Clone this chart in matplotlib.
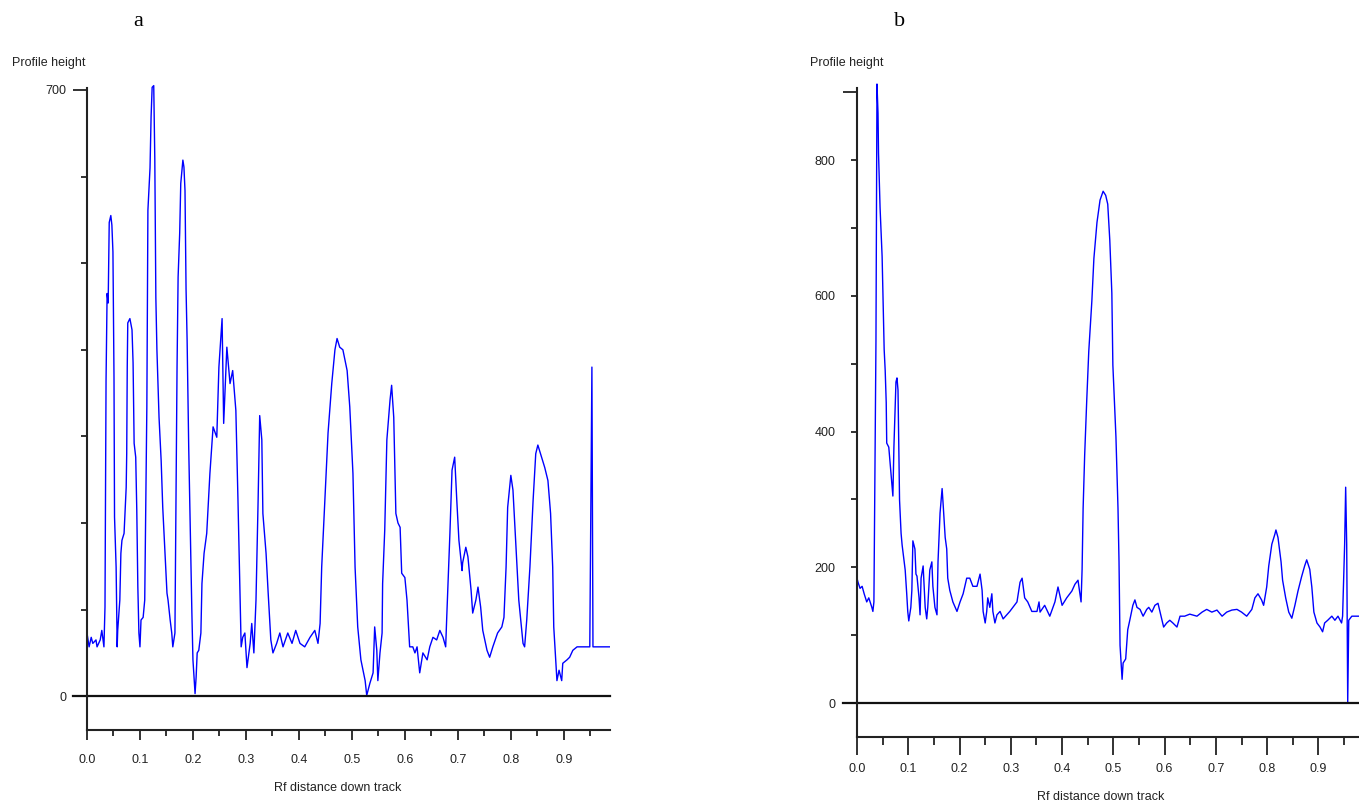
import matplotlib
matplotlib.use('Agg')
import matplotlib.pyplot as plt
from matplotlib.ticker import MultipleLocator, FormatStrFormatter

plt.rcParams['font.family'] = ['Liberation Sans', 'DejaVu Sans']

# panel a: profile trace
a_x = [0.000, 0.004, 0.008, 0.011, 0.017, 0.019, 0.025, 0.028, 0.032, 0.034,
       0.036, 0.038, 0.040, 0.042, 0.045, 0.047, 0.049, 0.051, 0.052, 0.055,
       0.057, 0.058, 0.062, 0.064, 0.066, 0.070, 0.074, 0.075, 0.076, 0.077,
       0.081, 0.085, 0.087, 0.089, 0.092, 0.094, 0.096, 0.098, 0.100, 0.102,
       0.106, 0.109, 0.111, 0.113, 0.114, 0.115, 0.119, 0.121, 0.123, 0.126,
       0.128, 0.130, 0.132, 0.136, 0.140, 0.143, 0.147, 0.151, 0.153, 0.157,
       0.160, 0.162, 0.166, 0.168, 0.170, 0.172, 0.175, 0.177, 0.181, 0.183,
       0.185, 0.187, 0.189, 0.192, 0.196, 0.198, 0.200, 0.204, 0.206, 0.208,
       0.211, 0.215, 0.217, 0.221, 0.226, 0.232, 0.238, 0.245, 0.249, 0.255,
       0.258, 0.264, 0.270, 0.275, 0.281, 0.285, 0.291, 0.294, 0.298, 0.302,
       0.308, 0.311, 0.315, 0.319, 0.323, 0.326, 0.330, 0.332, 0.338, 0.342,
       0.347, 0.351, 0.358, 0.364, 0.370, 0.379, 0.387, 0.394, 0.402, 0.411,
       0.421, 0.430, 0.436, 0.440, 0.443, 0.449, 0.455, 0.462, 0.468, 0.472,
       0.477, 0.483, 0.491, 0.496, 0.502, 0.506, 0.511, 0.517, 0.525, 0.528,
       0.534, 0.540, 0.543, 0.547, 0.549, 0.553, 0.557, 0.558, 0.562, 0.566,
       0.572, 0.575, 0.579, 0.583, 0.587, 0.591, 0.594, 0.600, 0.604, 0.609,
       0.615, 0.619, 0.623, 0.628, 0.634, 0.642, 0.647, 0.653, 0.660, 0.666,
       0.672, 0.677, 0.679, 0.685, 0.689, 0.694, 0.698, 0.702, 0.708, 0.709,
       0.715, 0.719, 0.725, 0.728, 0.734, 0.738, 0.743, 0.747, 0.755, 0.760,
       0.766, 0.775, 0.783, 0.787, 0.791, 0.794, 0.800, 0.804, 0.809, 0.815,
       0.823, 0.826, 0.830, 0.836, 0.842, 0.847, 0.851, 0.858, 0.864, 0.870,
       0.875, 0.879, 0.881, 0.887, 0.891, 0.896, 0.898, 0.906, 0.911, 0.917,
       0.925, 0.934, 0.949, 0.951, 0.953, 0.955, 0.987]
a_y = [73, 57, 68, 61, 65, 57, 65, 76, 57, 103,
       365, 465, 454, 547, 555, 544, 513, 368, 207, 149,
       57, 76, 111, 165, 180, 188, 241, 280, 380, 431,
       436, 423, 385, 292, 276, 215, 126, 73, 57, 88,
       91, 111, 226, 334, 449, 561, 610, 669, 703, 705,
       621, 460, 400, 322, 272, 218, 169, 119, 111, 88,
       73, 57, 73, 226, 380, 484, 535, 592, 619, 611,
       584, 470, 411, 288, 161, 96, 42, 3, 22, 50,
       53, 73, 130, 165, 188, 257, 311, 299, 380, 436,
       315, 403, 361, 376, 330, 226, 57, 68, 73, 33,
       61, 84, 50, 111, 226, 324, 296, 211, 165, 119,
       65, 50, 61, 73, 57, 73, 61, 76, 61, 57,
       68, 76, 61, 84, 149, 226, 304, 361, 400, 413,
       403, 400, 376, 334, 257, 149, 80, 42, 18, 1,
       15, 27, 80, 53, 18, 50, 73, 130, 192, 296,
       342, 359, 322, 211, 200, 195, 142, 137, 111, 57,
       57, 50, 57, 27, 50, 42, 57, 68, 65, 76,
       68, 57, 91, 188, 261, 276, 226, 180, 145, 154,
       172, 161, 122, 96, 111, 126, 103, 76, 53, 45,
       57, 73, 80, 91, 149, 218, 255, 238, 180, 111,
       61, 57, 88, 149, 226, 280, 290, 276, 264, 249,
       211, 149, 80, 18, 30, 18, 38, 42, 45, 53,
       57, 57, 57, 226, 380, 57, 57]

# panel b
b_x = [0.000, 0.002, 0.006, 0.010, 0.014, 0.019, 0.023, 0.029, 0.031, 0.033,
       0.037, 0.039, 0.041, 0.042, 0.045, 0.049, 0.051, 0.053, 0.055, 0.057,
       0.058, 0.062, 0.066, 0.068, 0.070, 0.072, 0.076, 0.078, 0.080, 0.082,
       0.083, 0.086, 0.088, 0.090, 0.094, 0.097, 0.099, 0.101, 0.105, 0.107,
       0.109, 0.113, 0.115, 0.117, 0.121, 0.123, 0.125, 0.129, 0.131, 0.133,
       0.136, 0.138, 0.142, 0.146, 0.148, 0.152, 0.156, 0.158, 0.162, 0.166,
       0.168, 0.172, 0.175, 0.177, 0.181, 0.187, 0.195, 0.201, 0.207, 0.214,
       0.220, 0.226, 0.234, 0.240, 0.244, 0.246, 0.250, 0.253, 0.255, 0.259,
       0.263, 0.265, 0.269, 0.273, 0.279, 0.285, 0.292, 0.298, 0.304, 0.312,
       0.318, 0.322, 0.327, 0.333, 0.341, 0.351, 0.355, 0.357, 0.366, 0.376,
       0.386, 0.392, 0.400, 0.409, 0.419, 0.425, 0.431, 0.437, 0.439, 0.441,
       0.444, 0.448, 0.452, 0.458, 0.462, 0.468, 0.474, 0.480, 0.485, 0.489,
       0.493, 0.497, 0.499, 0.505, 0.509, 0.511, 0.513, 0.517, 0.519, 0.524,
       0.528, 0.532, 0.538, 0.542, 0.546, 0.552, 0.558, 0.565, 0.569, 0.575,
       0.581, 0.587, 0.593, 0.598, 0.604, 0.610, 0.616, 0.624, 0.630, 0.639,
       0.649, 0.663, 0.673, 0.682, 0.692, 0.702, 0.712, 0.721, 0.731, 0.741,
       0.750, 0.760, 0.770, 0.776, 0.782, 0.789, 0.793, 0.799, 0.803, 0.809,
       0.815, 0.817, 0.821, 0.827, 0.830, 0.836, 0.842, 0.848, 0.854, 0.860,
       0.867, 0.873, 0.877, 0.883, 0.887, 0.891, 0.897, 0.903, 0.908, 0.912,
       0.918, 0.926, 0.932, 0.938, 0.945, 0.947, 0.951, 0.953, 0.955, 0.957,
       0.959, 0.965, 0.971, 0.979]
b_y = [184, 178, 169, 172, 161, 149, 155, 141, 135, 149,
       533, 912, 869, 810, 730, 658, 593, 521, 490, 443,
       383, 377, 340, 322, 305, 377, 473, 479, 461, 352,
       299, 250, 233, 221, 196, 161, 135, 121, 141, 166,
       239, 227, 190, 187, 155, 130, 184, 202, 172, 141,
       124, 141, 196, 208, 172, 141, 130, 208, 280, 316,
       293, 244, 227, 184, 166, 149, 135, 149, 161, 184,
       184, 172, 172, 190, 166, 135, 118, 135, 155, 141,
       161, 135, 118, 130, 135, 124, 130, 135, 141, 149,
       178, 184, 155, 149, 135, 135, 149, 134, 144, 128,
       149, 171, 144, 155, 165, 175, 181, 149, 197, 287,
       365, 445, 518, 592, 655, 708, 741, 754, 748, 735,
       682, 604, 498, 392, 287, 208, 85, 35, 59, 65,
       108, 122, 144, 152, 141, 138, 128, 138, 141, 134,
       144, 147, 128, 112, 118, 122, 118, 112, 128, 128,
       131, 128, 134, 138, 134, 137, 128, 134, 137, 138,
       134, 128, 138, 155, 161, 152, 144, 171, 202, 234,
       249, 255, 244, 208, 181, 155, 134, 125, 144, 165,
       186, 202, 211, 197, 171, 134, 118, 112, 105, 118,
       122, 128, 122, 128, 118, 128, 234, 318, 234, 1,
       122, 128, 128, 128]

fig = plt.figure(figsize=(13.59, 8.06), dpi=100)
ax_a = fig.add_axes([0.0640, 0.0943, 0.3848, 0.8027])
ax_b = fig.add_axes([0.6306, 0.0856, 0.3694, 0.8127])

dark = '#222222'
fs = 9


def setup(ax, x, y, xmax, ylo, yhi, ytop):
    ax.plot(x, y, color='blue', lw=1.0)
    ax.set_xlim(0, xmax)
    ax.set_ylim(ylo, yhi)
    for s in ['top', 'right']:
        ax.spines[s].set_visible(False)
    for s in ['left', 'bottom']:
        ax.spines[s].set_color(dark)
        ax.spines[s].set_linewidth(1.5)
    ax.spines['left'].set_bounds(ylo, ytop)
    ax.axhline(0, xmin=-0.027, xmax=1, color='#111111', lw=1.6, clip_on=False)
    ax.xaxis.set_major_locator(MultipleLocator(0.1))
    ax.xaxis.set_minor_locator(MultipleLocator(0.05))
    ax.xaxis.set_major_formatter(FormatStrFormatter('%.1f'))
    ax.tick_params(axis='both', which='both', color=dark, width=1.3,
                   labelcolor=dark, labelsize=fs)


setup(ax_a, a_x, a_y, 0.987, -39, 708, 702)
ax_a.set_yticks([0, 700])
ax_a.set_yticks([100, 200, 300, 400, 500, 600], minor=True)
ax_a.tick_params(axis='y', which='major', length=10, pad=5)
ax_a.tick_params(axis='y', which='minor', length=4.3)
ax_a.tick_params(axis='x', which='major', length=7.2, pad=10)
ax_a.tick_params(axis='x', which='minor', length=4.3)

setup(ax_b, b_x, b_y, 0.979, -50, 915, 906)
ax_b.set_yticks([0, 200, 400, 600, 800, 900], ['0', '200', '400', '600', '800', ''])
ax_b.set_yticks([100, 300, 500, 700], minor=True)
ax_b.tick_params(axis='y', which='major', length=4.3, pad=11)
ax_b.tick_params(axis='y', which='minor', length=4.3)
ax_b.yaxis.get_major_ticks()[-1].tick1line.set_markersize(10)
ax_b.tick_params(axis='x', which='major', length=13, pad=6)
ax_b.tick_params(axis='x', which='minor', length=5.8)

# labels placed like the original screenshot
fig.text(12 / 1359, 1 - 63 / 806, 'Profile height', fontsize=fs, color=dark, va='center')
fig.text(810 / 1359, 1 - 63 / 806, 'Profile height', fontsize=fs, color=dark, va='center')
fig.text(338 / 1359, 1 - 788 / 806, 'Rf distance down track', fontsize=fs, color=dark,
         ha='center', va='center')
fig.text(1101 / 1359, 1 - 797 / 806, 'Rf distance down track', fontsize=fs, color=dark,
         ha='center', va='center')
fig.text(138 / 1359, 1 - 22 / 806, 'a', family='Liberation Serif', fontsize=16,
         ha='center', va='center')
fig.text(900 / 1359, 1 - 22 / 806, 'b', family='Liberation Serif', fontsize=16,
         ha='center', va='center')

fig.savefig('out.png', dpi=100)
